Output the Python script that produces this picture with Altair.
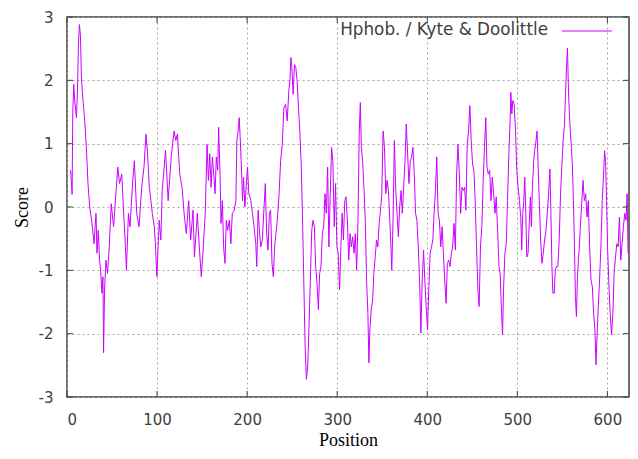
import altair as alt
import pandas as pd

positions = [4, 5.7, 6.4, 7.5, 8.6, 10.5, 11.6, 12.7, 13.8, 14.9, 16, 17.8, 19.7, 21.5, 23.3, 25.2, 27.8, 30, 32.2, 33.3,
             34.7, 36.2, 37.3, 38.8, 39.9, 40.6, 41.7, 43.2, 45, 46.9, 49.1, 51.7, 56.4, 58.3, 60.8, 63.1, 64.5, 66, 68.2, 70,
             73, 74.8, 77.4, 80, 82.9, 85.5, 87.7, 89.5, 91.4, 93.2, 94.7, 96.9, 98.3, 99.8, 102.4, 104.2, 105.7, 107.9, 109.4, 112.3,
             116, 118.9, 120.8, 122.6, 125.2, 127.8, 130, 132.5, 135.1, 137.3, 139.9, 141.5, 144.7, 146.9, 149.1, 150.9, 153.5,
             155.5, 157, 158.5, 160, 161.4, 162.9, 164.4, 165.8, 167.3, 168.4, 169.9, 171, 172.5, 173.9, 175.4, 176.9, 178.3, 180.2,
             182, 183.5, 185.7, 187.5, 188.6, 190.1, 191.2, 192.3, 193.8, 194.9, 196, 197.5, 198.9, 200.4, 201.9, 204.1, 205.9, 207.7,
             209.6, 210.7, 212.2, 213.6, 215.1, 216.9, 218.8, 220.2, 221.7, 223.2, 224.7, 226.1, 227.6, 229.1, 230.5, 232, 233.5,
             235.3, 237.2, 239, 240.8, 242.7, 244.5, 246.3, 247.5, 248.6, 249.7, 251.1, 252.6, 254.1, 255.5, 257, 258.5, 259.9,
             261.4, 262.9, 264.4, 265.8, 267.3, 268.8, 270.2, 271.7, 273.2, 274.7, 276.1, 277.6, 279.1, 280.5, 282, 283.5, 285,
             286.4, 287.9, 289.4, 290.8, 292.3, 293.8, 295.2, 296.7, 298.2, 299.7, 301.1, 302.6, 304.1, 305.5,
             306.9, 308.4, 309.8, 311.3, 312.8, 314.3, 315.7, 317.2, 318.7, 320.1, 321.6, 323.1, 324.5, 325.7, 326.8, 328.2, 329.7,
             331.2, 332.6, 334.1, 335.2, 336.3, 337.8, 339.3, 340.7, 342.2, 343.7, 345.1, 346.6, 348.1, 349.5, 351, 352.5, 354,
             355.4, 356.9, 358.4, 359.8, 360.6, 362, 363.5, 365, 366.5, 367.9, 369.4, 370.9, 372.3, 373.8, 375.3, 376.7, 378.2,
             379.7, 381.2, 382.6, 384.1, 385.6, 387, 388.5, 390, 391.5, 392.9, 394.4, 395.9, 397.3, 398.8, 400.3, 401.8, 403.2,
             404.7, 406.2, 407.6, 409.1, 410.6, 412, 413.5, 415, 416.5, 417.9, 419.4, 420.9, 422.3, 423.8, 425.3, 426.8, 428.2,
             429.7, 431.2, 432.6, 434.1, 435.6, 437.1, 438.5, 440, 441.5, 442.9, 444.4, 445.9, 447.3, 448.8, 450.3, 451.8, 453.2,
             454.7, 456.2, 457.6, 459.1, 460.6, 462.1, 463.5, 465,
             466.3, 467.8, 469.3, 470.8, 472.2, 473.7, 475.2, 476.6, 478.1, 479.6, 481, 482.5, 483.6, 484.7, 486.2, 487.7, 489.1,
             490.6, 492.1, 492.8, 493.9, 495, 496.5, 498, 499.4, 500.9, 502.4, 503.8, 504.9, 506, 507.2, 508.3, 509.4, 510.5,
             511.9, 513.4, 514.5, 515.6, 516.7, 518.2, 519.3, 520.8, 521.9, 523, 524.4, 525.9, 527.4, 528.8, 530.3, 531.8, 533.3,
             534.7, 536.2, 537.3, 538.4, 539.5, 541, 542.1, 543.6, 545, 546.5, 548, 549.4, 550.9, 552.4, 553.5, 554.6, 555.7,
             556.8, 557.9, 559, 560.1, 561.2, 562.3, 563.4, 564.5, 565.6, 566.7, 567.8, 568.9, 570, 571.5, 573, 574.4, 575.9,
             577.4, 578.8, 580.3, 581.8, 583.3, 584.7, 586.2, 587.3, 588.4, 589.9, 591.3, 592.8, 594.3, 595.8, 596.9, 598, 599.1,
             600.2, 601.6, 603.1, 604.6, 606.1, 607.5, 609, 610.5, 611.9, 613.4, 614.9, 616.3, 617.8, 619.3, 620.7, 621.9, 623]

scores = [0.58, 0.2, 1.47, 1.94, 1.68, 1.41, 1.83, 2.57, 2.88, 2.72, 2.04, 1.68, 1.36, 0.94, 0.37, 0.0, -0.26, -0.58, -0.1, -0.73,
          -0.37, -0.84, -1.0, -1.36, -1.1, -2.3, -1.31, -0.84, -1.05, -0.63, 0.05, -0.31, 0.63, 0.37, 0.52, -0.16, -0.52, -1.0, -0.1, -0.31,
          0.42, 0.73, -0.1, -0.31, 0.31, 0.63, 1.15, 0.84, 0.31, 0.1, -0.1, -0.31, -0.63, -1.1, -0.21, -0.52, 0.26, 0.63, 0.89, 0.1,
          0.84, 1.2, 1.05, 1.15, 0.52, 0.31, -0.1, -0.42, 0.1, -0.52, -0.05, -0.79, -0.1, -0.63, -1.1, -0.73, -0.1,
          0.99, 0.42, 0.84, 0.31, 0.79, 0.52, 0.21, 0.79, 0.58, 1.26, 0.52, -0.26, 0.1, -0.63, -0.89, -0.21, -0.37, -0.21,
          -0.58, -0.1, -0.05, 0.1, 1.05, 1.2, 1.41, 1.1, 0.58, 0.1, 0.47, 0.0, 0.31, 0.63, 0.21, 0.1, -0.1, -0.31,
          -0.58, -0.94, -0.05, -0.37, -0.63, -0.52, 0.0, 0.37, -0.42, -0.68, -0.1, -0.05, -0.89, -1.1, -0.63, -0.42, -0.21,
          0.16, 0.73, 0.99, 1.57, 1.62, 1.36, 1.83, 1.99, 2.36, 2.2, 1.78, 2.25, 2.2, 1.99, 1.57, 1.2, 0.73,
          -0.1, -1.15, -2.2, -2.72, -2.51, -1.83, -1.15, -0.37, -0.21, -0.31, -0.94, -1.2, -1.62, -1.05, -0.94, -0.42, -0.31,
          0.21, -0.1, 0.63, -0.63, 0.21, 0.94, 0.73, -0.31, 0.37, -0.63, -0.73, -1.31, -0.63, -0.1,
          -0.52, 0.1, 0.16, -0.21, -0.84, -0.42, -0.63, -0.47, -0.73, -0.42, -1.0, -0.21, 1.2, 1.65, 0.94, 0.73, 0.31,
          -0.21, -1.15, -1.68, -2.46, -1.94, -1.62, -1.47, -1.05, -0.79, -0.52, -0.63, -0.26, -0.05, 0.21, 1.2, 0.94, 0.21,
          0.42, 0.26, -0.21, -0.68, -1.0, -0.21, 1.05, 0.26, -0.1, -0.47, 0.0, 0.26, -0.1, 0.31, 0.73, 1.31, 0.84,
          0.37, 0.73, 0.79, 0.94, 0.52, -0.1, -0.21, -0.63, -1.15, -1.99, -1.15, -0.68, -1.15, -1.57, -1.94, -1.26, -0.73,
          -0.63, -0.52, -0.1, 0.26, 0.79, -0.1, -0.21, -0.63, -0.31, -0.73, -1.15, -1.52, -0.89, -0.84, -0.94, -0.73, -0.63,
          -0.26, -0.68, 0.52, 0.99, 0.52, -0.1, 0.31, 0.26, 0.31, -0.05, 0.99, 1.2, 1.6, 1.05, 0.68, 0.58, 0.1,
          -0.63, -1.31, -1.57, -0.63, -0.31, 0.42, 0.94, 1.41,
          0.63, 0.52, 0.58, 0.1, 0.47, 0.21, -0.1, 0.16, -0.37, -0.94, -1.05, -1.68, -2.02, -1.31, -0.73, -0.58, 0.1,
          0.84, 1.41, 1.81, 1.47, 1.68, 1.62, 1.2, 0.58, 0.31, 0.1, -0.16, -0.68, -0.1, 0.1, 0.47, -0.1, -0.79,
          -0.73, -0.21, 0.16, -0.31, 0.31, 0.73, 0.89, 1.05, 1.2, 0.68, 0.1, -0.52, -0.89, -0.73, -0.52, -0.37, -0.1,
          0.21, 0.6, -0.1, -0.94, -1.36, -1.36, -1.0, -0.94, -0.94, -0.52, 0.21, 0.63, 1.05, 1.31, 1.78, 2.2, 2.51,
          1.83, 1.47, 1.15, 0.94, 0.63, 0.1, -0.58, -1.41, -1.73, -1.15, -0.84, -0.63, -0.31, 0.05, 0.42, 0.1, 0.21,
          -0.16, 0.1, -0.63, -1.15, -1.26, -1.68, -1.94, -2.49, -2.09, -1.57, -1.15, -0.63, 0.1, 0.52, 0.89, 0.73, 0.1,
          -0.63, -1.2, -1.68, -2.02, -1.68, -1.05, -0.79, -0.58, -0.63, -0.16, -0.84, -0.58, -0.31, -0.1, -0.21, 0.21, -0.73]

x_ticks = [0, 100, 200, 300, 400, 500, 600]
y_ticks = [-3, -2, -1, 0, 1, 2, 3]
legend_label = ["Hphob. / Kyte & Doolittle"]
x_title = "Position"
y_title = "Score"

LINE = "#cc00ff"
FRAME = "#404040"
LABEL = "#404040"
W, H = 562, 380
PAD_L, PAD_T, PAD_R, PAD_B = 59, 9, 1, 54

df = pd.DataFrame({"Position": positions, "Score": scores})
xt = pd.DataFrame({"Position": x_ticks})
yt = pd.DataFrame({"Score": y_ticks})
lg = pd.DataFrame({"label": legend_label})

xs = alt.Scale(domain=[0, 624], nice=False, zero=False)
ys = alt.Scale(domain=[-3, 3], nice=False, zero=False)

plain_label = "'' + datum.value"

x_axis = alt.Axis(values=x_ticks, labelExpr=plain_label, grid=True, gridDash=[2, 3], gridColor="#a8a8a8",
                  gridWidth=1, ticks=False, tickSize=0, domain=False, labelPadding=15, labelFont="DejaVu Sans",
                  labelFontSize=15, labelColor=LABEL, title=x_title, titleFont="Liberation Serif",
                  titleFontSize=18, titleFontWeight="normal", titleColor="#000000", titleY=43,
                  titleBaseline="middle")
y_axis = alt.Axis(values=y_ticks, labelExpr=plain_label, grid=True, gridDash=[2, 3], gridColor="#a8a8a8",
                  gridWidth=1, ticks=False, tickSize=0, domain=False, labelPadding=14, labelFont="DejaVu Sans",
                  labelFontSize=15, labelColor=LABEL, title=y_title, titleFont="Liberation Serif",
                  titleFontSize=18, titleFontWeight="normal", titleColor="#000000", titleX=-45,
                  titleY=H / 2, titleAngle=270, titleBaseline="middle", titleAlign="center")

line = alt.Chart(df).mark_line(color=LINE, strokeWidth=1, clip=True).encode(
    x=alt.X("Position:Q", scale=xs, axis=x_axis),
    y=alt.Y("Score:Q", scale=ys, axis=y_axis),
)

tick_top = alt.Chart(xt).mark_rule(color=FRAME, strokeWidth=1).encode(
    x=alt.X("Position:Q", scale=xs), y=alt.value(0), y2=alt.value(6))
tick_bot = alt.Chart(xt).mark_rule(color=FRAME, strokeWidth=1).encode(
    x=alt.X("Position:Q", scale=xs), y=alt.value(H), y2=alt.value(H - 6))
tick_left = alt.Chart(yt).mark_rule(color=FRAME, strokeWidth=1).encode(
    y=alt.Y("Score:Q", scale=ys), x=alt.value(0), x2=alt.value(6))
tick_right = alt.Chart(yt).mark_rule(color=FRAME, strokeWidth=1).encode(
    y=alt.Y("Score:Q", scale=ys), x=alt.value(W), x2=alt.value(W - 6))

legend_text = alt.Chart(lg).mark_text(align="right", baseline="middle", font="DejaVu Sans",
                                      fontSize=16.8, color=LABEL).encode(
    text="label:N", x=alt.value(481), y=alt.value(13))
legend_line = alt.Chart(lg).mark_rule(color=LINE, strokeWidth=1).encode(
    x=alt.value(495), x2=alt.value(545), y=alt.value(14))

chart = alt.layer(line, tick_top, tick_bot, tick_left, tick_right, legend_text, legend_line).properties(
    width=W, height=H,
    autosize=alt.AutoSizeParams(type="none"),
    padding={"left": PAD_L, "top": PAD_T, "right": PAD_R, "bottom": PAD_B},
).configure_view(stroke=FRAME, strokeWidth=1.5)

chart.save("out.html", embed_options={"renderer": "svg", "actions": False})
